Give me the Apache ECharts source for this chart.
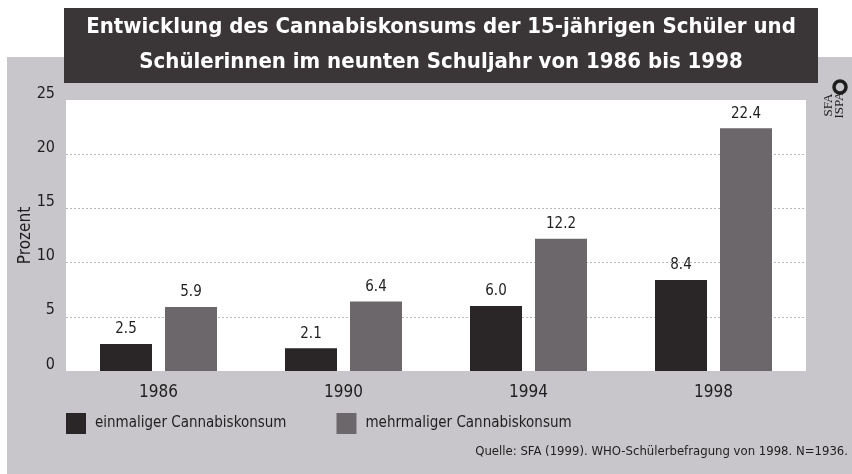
<!DOCTYPE html>
<html lang="de">
<head>
  <meta charset="UTF-8">
  <title>Cannabiskonsum 15-jährige Schüler</title>
  <script src="https://cdn.jsdelivr.net/npm/echarts/dist/echarts.min.js"></script>
  <style>
    html, body { margin: 0; padding: 0; background: #fff; }
    #chart { width: 852px; height: 474px; }
  </style>
</head>
<body>
<div id="chart"></div>
<script>
  // Daten aus der Grafik
  const years = ['1986', '1990', '1994', '1998'];
  const einmalig = [2.5, 2.1, 6.0, 8.4];
  const mehrmalig = [5.9, 6.4, 12.2, 22.4];
  const seriesNames = ['einmaliger Cannabiskonsum', 'mehrmaliger Cannabiskonsum'];
  const yTicks = [0, 5, 10, 15, 20, 25];

  const narrow = "'Liberation Sans Narrow', 'Arial Narrow', 'DejaVu Sans Condensed', sans-serif";
  const darkBar = '#2a2527';
  const greyBar = '#6b676a';

  const chart = echarts.init(document.getElementById('chart'));

  const labelTop = {
    show: true,
    position: 'top',
    distance: 7,
    fontFamily: narrow,
    fontSize: 15,
    color: '#1e1e1e',
    formatter: p => p.value.toFixed(1)
  };

  chart.setOption({
    backgroundColor: '#ffffff',
    animation: false,
    textStyle: { fontFamily: narrow },
    graphic: [
      // grauer Hintergrund
      { type: 'rect', z: -10, silent: true, shape: { x: 7, y: 57, width: 845, height: 417 }, style: { fill: '#c8c6ca' } },
      // Titelbalken
      { type: 'rect', z: -9, silent: true, shape: { x: 64, y: 8, width: 754, height: 75 }, style: { fill: '#3a3638' } },
      // Logo
      { type: 'circle', z: 5, silent: true, shape: { cx: 840, cy: 87, r: 6 }, style: { fill: 'none', stroke: '#1e1e1e', lineWidth: 3.5 } },
      { type: 'text', z: 5, silent: true, x: 829, y: 105, rotation: Math.PI / 2,
        style: { text: 'SFA', fontFamily: "'Liberation Serif', serif", fontSize: 13, fill: '#1e1e1e', align: 'center', verticalAlign: 'middle' } },
      { type: 'text', z: 5, silent: true, x: 840, y: 105, rotation: Math.PI / 2,
        style: { text: 'ISPA', fontFamily: "'Liberation Serif', serif", fontSize: 13, fill: '#1e1e1e', align: 'center', verticalAlign: 'middle' } },
      // Quelle
      { type: 'text', z: 5, silent: true, x: 848, y: 452,
        style: { text: 'Quelle: SFA (1999). WHO-Schülerbefragung von 1998. N=1936.', fontFamily: narrow, fontSize: 13, fill: '#1e1e1e', align: 'right', verticalAlign: 'middle' } }
    ],
    title: {
      text: 'Entwicklung des Cannabiskonsums der 15-jährigen Schüler und\nSchülerinnen im neunten Schuljahr von 1986 bis 1998',
      left: 441,
      top: 10,
      padding: 0,
      textAlign: 'center',
      textStyle: {
        color: '#ffffff',
        fontFamily: narrow,
        fontWeight: 'bold',
        fontSize: 22,
        lineHeight: 35
      }
    },
    legend: {
      data: seriesNames,
      left: 66,
      top: 413,
      padding: 0,
      icon: 'rect',
      itemWidth: 20,
      itemHeight: 21,
      itemGap: 50,
      textStyle: {
        fontFamily: narrow,
        fontSize: 15,
        color: '#1e1e1e',
        padding: [10, 0, 0, 4]
      }
    },
    grid: {
      left: 66,
      right: 46,
      top: 100,
      bottom: 103,
      show: true,
      backgroundColor: '#ffffff',
      borderWidth: 0
    },
    xAxis: {
      type: 'category',
      data: years,
      axisLine: { show: false },
      axisTick: { show: false },
      axisLabel: { fontFamily: narrow, fontSize: 17, color: '#1e1e1e', margin: 13 }
    },
    yAxis: {
      type: 'value',
      min: yTicks[0],
      max: yTicks[yTicks.length - 1],
      interval: 5,
      name: 'Prozent',
      nameLocation: 'middle',
      nameGap: 32,
      nameMoveOverlap: false,
      nameTextStyle: { fontFamily: narrow, fontSize: 17, color: '#1e1e1e' },
      axisLine: { show: false },
      axisTick: { show: false },
      axisLabel: { fontFamily: narrow, fontSize: 16, color: '#1e1e1e', margin: 11, verticalAlign: 'bottom', lineHeight: 13 },
      splitLine: {
        show: true,
        showMinLine: false,
        showMaxLine: false,
        lineStyle: { color: '#b8b8b8', type: [2, 2], width: 1 }
      }
    },
    series: [
      {
        name: seriesNames[0],
        type: 'bar',
        data: einmalig,
        barWidth: 52,
        barGap: '25%',
        itemStyle: { color: darkBar },
        label: labelTop
      },
      {
        name: seriesNames[1],
        type: 'bar',
        data: mehrmalig,
        barWidth: 52,
        itemStyle: { color: greyBar },
        label: labelTop
      }
    ]
  });
</script>
</body>
</html>
